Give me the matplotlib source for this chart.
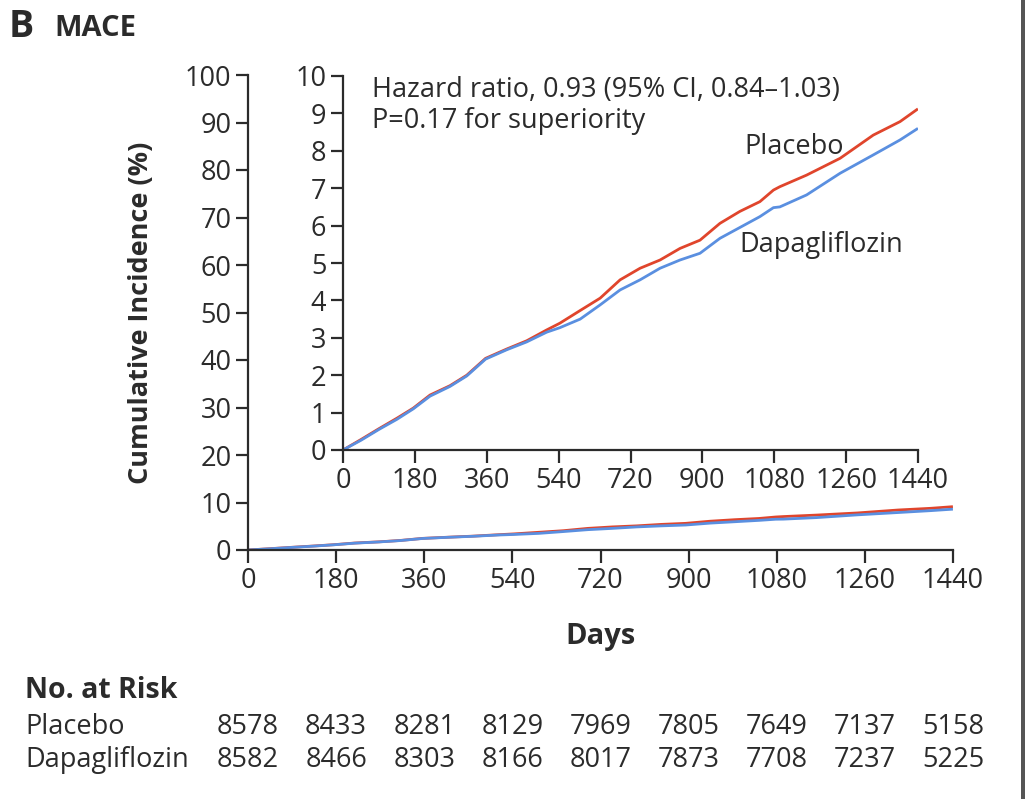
import matplotlib
matplotlib.use("Agg")
import matplotlib.pyplot as plt
from matplotlib.patches import Rectangle

plt.rcParams['font.family'] = ['Open Sans', 'DejaVu Sans']

# ---- data ----
days = [0, 45, 90, 135, 176, 218, 268, 310, 357, 410, 460, 510, 543, 594, 644,
        694, 744, 794, 844, 894, 944, 994, 1044, 1078, 1094, 1161, 1245, 1328,
        1395, 1437]
placebo = [0, 0.28, 0.57, 0.85, 1.12, 1.47, 1.72, 2.00, 2.45, 2.70, 2.92, 3.21,
           3.39, 3.73, 4.06, 4.55, 4.86, 5.08, 5.39, 5.61, 6.06, 6.38, 6.64,
           6.95, 7.04, 7.35, 7.80, 8.42, 8.78, 9.10]
dapagliflozin = [0, 0.26, 0.55, 0.82, 1.10, 1.44, 1.70, 1.98, 2.43, 2.68, 2.89,
                 3.15, 3.27, 3.50, 3.88, 4.28, 4.55, 4.86, 5.08, 5.26, 5.66,
                 5.95, 6.24, 6.48, 6.50, 6.82, 7.40, 7.89, 8.29, 8.58]

x_ticks = [0, 180, 360, 540, 720, 900, 1080, 1260, 1440]
main_y_ticks = [0, 10, 20, 30, 40, 50, 60, 70, 80, 90, 100]
inset_y_ticks = [0, 1, 2, 3, 4, 5, 6, 7, 8, 9, 10]
risk_placebo = [8578, 8433, 8281, 8129, 7969, 7805, 7649, 7137, 5158]
risk_dapa = [8582, 8466, 8303, 8166, 8017, 7873, 7708, 7237, 5225]

RED = '#E0452C'
BLUE = '#5A8FE0'
INK = '#2b2b2b'
FS = 19.5

W, H = 1025, 799
fig = plt.figure(figsize=(W / 100, H / 100), dpi=100)

def fx(px):
    return px / W

def fy(py):
    return 1 - py / H

def style_axes(ax):
    for s in ['top', 'right']:
        ax.spines[s].set_visible(False)
    for s in ['left', 'bottom']:
        ax.spines[s].set_color(INK)
        ax.spines[s].set_linewidth(1.6)
    ax.tick_params(direction='out', length=9, width=1.6, color=INK,
                   labelsize=FS, labelcolor=INK, pad=3)

# ---- main axes ----
ax = fig.add_axes([fx(248), fy(550), fx(953) - fx(248), fy(75) - fy(550)])
ax.plot(days, placebo, color=RED, lw=2.0, solid_joinstyle='round')
ax.plot(days, dapagliflozin, color=BLUE, lw=2.0, solid_joinstyle='round')
ax.set_xlim(0, 1440)
ax.set_ylim(0, 100)
ax.set_xticks(x_ticks)
ax.set_yticks(main_y_ticks)
style_axes(ax)
ax.set_xlabel('Days', fontsize=FS + 1.5, fontweight='bold', color=INK, labelpad=20)
ax.set_ylabel('Cumulative Incidence (%)', fontsize=FS, fontweight='bold',
              color=INK, labelpad=22)
ax.patch.set_alpha(0)

# ---- inset axes ----
ai = fig.add_axes([fx(343), fy(450), fx(918) - fx(343), fy(76) - fy(450)])
ai.plot(days, placebo, color=RED, lw=2.0, solid_joinstyle='round')
ai.plot(days, dapagliflozin, color=BLUE, lw=2.0, solid_joinstyle='round')
ai.set_xlim(0, 1440)
ai.set_ylim(0, 10)
ai.set_xticks(x_ticks)
ai.set_yticks(inset_y_ticks)
style_axes(ai)
ai.patch.set_alpha(0)
ai.text(0.05, 1.0, 'Hazard ratio, 0.93 (95% CI, 0.84\u20131.03)\nP=0.17 for superiority',
        transform=ai.transAxes, fontsize=FS, color=INK, va='top', ha='left',
        linespacing=1.12)
ai.text(1005, 8.1, 'Placebo', fontsize=FS, color=INK, ha='left', va='center')
ai.text(992, 5.48, 'Dapagliflozin', fontsize=FS, color=INK, ha='left', va='center')

# ---- title ----
fig.text(fx(9), fy(27), 'B', fontsize=27, fontweight='bold', color=INK, va='center')
fig.text(fx(54), fy(28), 'MACE', fontsize=21, fontweight='bold', color=INK, va='center')

# ---- risk table ----
fig.text(fx(25), fy(690), 'No. at Risk', fontsize=FS + 1, fontweight='bold',
         color=INK, va='center')
fig.text(fx(25), fy(727), 'Placebo', fontsize=FS, color=INK, va='center')
fig.text(fx(25), fy(760), 'Dapagliflozin', fontsize=FS, color=INK, va='center')
trans = ax.get_xaxis_transform()
for d, a, b in zip(x_ticks, risk_placebo, risk_dapa):
    ax.text(d, -(727 - 550) / 475, str(a), transform=trans, fontsize=FS, color=INK,
            ha='center', va='center', clip_on=False)
    ax.text(d, -(760 - 550) / 475, str(b), transform=trans, fontsize=FS, color=INK,
            ha='center', va='center', clip_on=False)

# right-edge border strip seen in reference
fig.patches.append(Rectangle((fx(1021), 0), 1 - fx(1021), 1, transform=fig.transFigure,
                             facecolor='#555555', edgecolor='none'))

fig.savefig('out.png', dpi=100, facecolor='white')
